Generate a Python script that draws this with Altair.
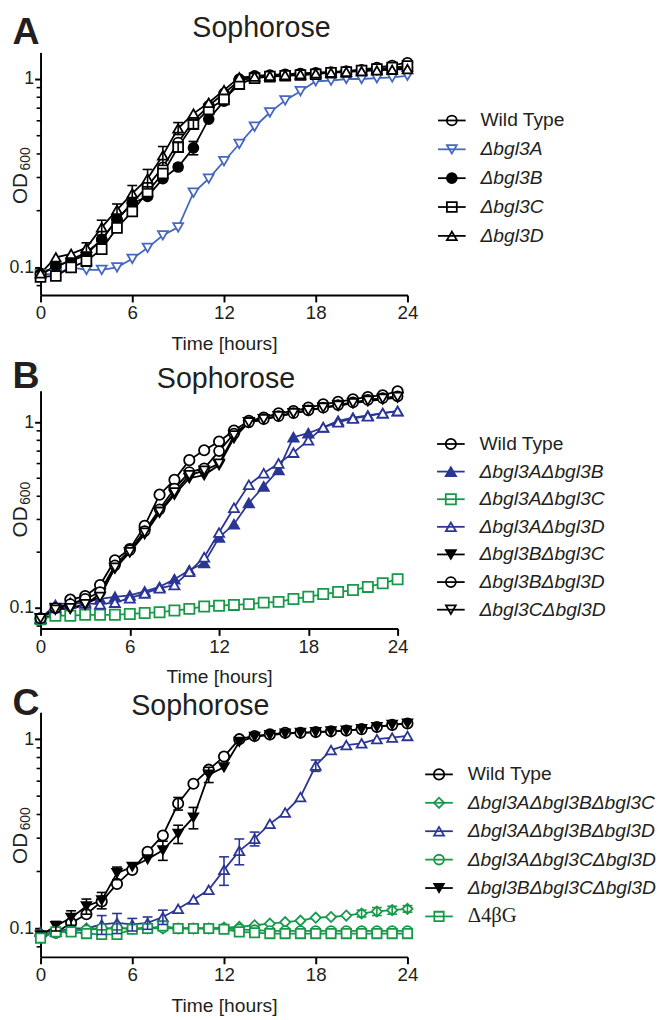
import altair as alt
import pandas as pd

FONT = "Liberation Sans"
TXT = "#231f20"
BLACK = "#000000"
BLUE_A = "#4468c0"
BLUE = "#2b3595"
GREEN = "#17994a"

HOURS = list(range(25))

# ---------------- Panel A ----------------
A_NAMES = ["Wild Type", "Δbgl3A", "Δbgl3B", "Δbgl3C", "Δbgl3D"]
A_WT = [0.093, 0.100, 0.110, 0.120, 0.140, 0.180, 0.220, 0.270, 0.340, 0.460, 0.600, 0.720, 0.840,
        0.980, 1.02, 1.04, 1.05, 1.06, 1.07, 1.08, 1.10, 1.12, 1.15, 1.18, 1.22]
A_B3A = [0.092, 0.092, 0.100, 0.097, 0.097, 0.100, 0.111, 0.127, 0.148, 0.163, 0.249, 0.296, 0.366,
         0.452, 0.558, 0.664, 0.770, 0.862, 0.973, 0.980, 1.00, 1.00, 1.01, 1.02, 1.04]
A_B3B = [0.092, 0.102, 0.108, 0.117, 0.141, 0.179, 0.219, 0.238, 0.296, 0.341, 0.431, 0.612, 0.763,
         1.00, 1.04, 1.05, 1.06, 1.07, 1.08, 1.09, 1.10, 1.11, 1.12, 1.13, 1.15]
A_B3C = [0.089, 0.090, 0.100, 0.108, 0.125, 0.162, 0.198, 0.252, 0.315, 0.435, 0.575, 0.690, 0.780,
         0.940, 1.01, 1.03, 1.04, 1.05, 1.06, 1.08, 1.09, 1.11, 1.13, 1.15, 1.17]
A_B3D = [0.093, 0.113, 0.118, 0.127, 0.163, 0.202, 0.247, 0.296, 0.393, 0.547, 0.655, 0.748, 0.873,
         1.02, 1.03, 1.04, 1.05, 1.06, 1.07, 1.08, 1.09, 1.10, 1.11, 1.12, 1.13]
A_ERR_B3D_HOURS = [3, 4, 5, 6, 7, 8, 9]
A_ERR_B3D = [0.008, 0.015, 0.015, 0.025, 0.035, 0.045, 0.040]
A_ERR_B3B_HOURS = [9, 10]
A_ERR_B3B = [0.012, 0.035]
A_ERR_B3C_HOURS = [9, 10]
A_ERR_B3C = [0.025, 0.030]
A_COLORS = [BLACK, BLUE_A, BLACK, BLACK, BLACK]
A_FILLS = ["white", "white", BLACK, "white", "white"]
A_SHAPES = ["circle", "triangle-down", "circle", "square", "triangle-up"]
A_SIZES = [100, 100, 70, 100, 110]

# ---------------- Panel B ----------------
B_NAMES = ["Wild Type", "Δbgl3AΔbgl3B", "Δbgl3AΔbgl3C", "Δbgl3AΔbgl3D",
           "Δbgl3BΔbgl3C", "Δbgl3BΔbgl3D", "Δbgl3CΔbgl3D"]
B_WT = [0.088, 0.092, 0.111, 0.116, 0.133, 0.181, 0.208, 0.277, 0.408, 0.490, 0.626, 0.707, 0.789,
        0.903, 1.02, 1.06, 1.12, 1.15, 1.20, 1.25, 1.29, 1.33, 1.37, 1.40, 1.47]
B_AB = [0.088, 0.104, 0.107, 0.108, 0.112, 0.115, 0.117, 0.123, 0.130, 0.143, 0.160, 0.175, 0.240,
        0.283, 0.368, 0.452, 0.554, 0.832, 0.874, 0.940, 1.02, 1.06, 1.09, 1.12, 1.15]
B_AC = [0.087, 0.091, 0.091, 0.092, 0.092, 0.092, 0.093, 0.094, 0.095, 0.097, 0.099, 0.102, 0.103,
        0.104, 0.105, 0.107, 0.108, 0.112, 0.115, 0.119, 0.122, 0.125, 0.130, 0.136, 0.143]
B_AD = [0.088, 0.100, 0.106, 0.106, 0.105, 0.107, 0.113, 0.120, 0.128, 0.133, 0.157, 0.188, 0.255,
        0.347, 0.461, 0.532, 0.601, 0.687, 0.800, 0.940, 1.00, 1.05, 1.08, 1.12, 1.15]
B_BC = [0.088, 0.100, 0.099, 0.104, 0.120, 0.163, 0.200, 0.250, 0.326, 0.408, 0.500, 0.520, 0.589,
        0.822, 1.00, 1.04, 1.08, 1.12, 1.16, 1.20, 1.23, 1.27, 1.30, 1.33, 1.36]
B_BD = [0.088, 0.100, 0.105, 0.112, 0.122, 0.170, 0.205, 0.260, 0.340, 0.440, 0.540, 0.565, 0.700,
        0.870, 1.00, 1.04, 1.08, 1.12, 1.16, 1.20, 1.24, 1.28, 1.32, 1.35, 1.38]
B_CD = [0.088, 0.098, 0.100, 0.105, 0.115, 0.165, 0.200, 0.255, 0.330, 0.420, 0.520, 0.550, 0.600,
        0.850, 1.00, 1.04, 1.08, 1.12, 1.16, 1.20, 1.23, 1.27, 1.31, 1.34, 1.37]
B_COLORS = [BLACK, BLUE, GREEN, BLUE, BLACK, BLACK, BLACK]
B_FILLS = ["white", BLUE, "white", "white", BLACK, "white", "white"]
B_SHAPES = ["circle", "triangle-up", "square", "triangle-up", "triangle-down", "circle", "triangle-down"]
B_SIZES = [110, 100, 100, 110, 100, 70, 100]

# ---------------- Panel C ----------------
C_NAMES = ["Wild Type", "Δbgl3AΔbgl3BΔbgl3C", "Δbgl3AΔbgl3BΔbgl3D",
           "Δbgl3AΔbgl3CΔbgl3D", "Δbgl3BΔbgl3CΔbgl3D", "Δ4βG"]
C_WT = [0.092, 0.095, 0.107, 0.119, 0.139, 0.172, 0.204, 0.254, 0.310, 0.457, 0.581, 0.690, 0.809,
        1.00, 1.04, 1.06, 1.08, 1.08, 1.09, 1.10, 1.11, 1.13, 1.16, 1.19, 1.21]
C_ABC = [0.092, 0.095, 0.098, 0.100, 0.100, 0.100, 0.100, 0.100, 0.100, 0.100, 0.100, 0.100, 0.101,
         0.102, 0.104, 0.106, 0.108, 0.110, 0.114, 0.115, 0.117, 0.120, 0.123, 0.125, 0.127]
C_ABD = [0.096, 0.096, 0.100, 0.100, 0.105, 0.107, 0.105, 0.107, 0.115, 0.127, 0.142, 0.160, 0.204,
         0.257, 0.298, 0.357, 0.410, 0.495, 0.726, 0.876, 0.930, 0.950, 1.00, 1.02, 1.04]
C_ACD = [0.092, 0.095, 0.097, 0.098, 0.100, 0.100, 0.100, 0.100, 0.101, 0.100, 0.100, 0.100, 0.100,
         0.099, 0.098, 0.097, 0.097, 0.097, 0.097, 0.097, 0.097, 0.097, 0.097, 0.097, 0.097]
C_BCD = [0.092, 0.103, 0.114, 0.131, 0.141, 0.196, 0.212, 0.232, 0.259, 0.316, 0.386, 0.650, 0.710,
         0.968, 1.03, 1.05, 1.07, 1.08, 1.09, 1.10, 1.11, 1.13, 1.16, 1.19, 1.21]
C_4BG = [0.089, 0.096, 0.096, 0.094, 0.093, 0.093, 0.099, 0.100, 0.103, 0.100, 0.100, 0.100, 0.099,
         0.096, 0.095, 0.094, 0.094, 0.094, 0.094, 0.094, 0.094, 0.094, 0.094, 0.094, 0.094]
C_ERR_WT_HOURS = [9]
C_ERR_WT = [0.035]
C_ERR_BCD_HOURS = [1, 2, 3, 4, 5, 8, 9, 10, 11]
C_ERR_BCD = [0.006, 0.010, 0.012, 0.014, 0.015, 0.030, 0.035, 0.050, 0.060]
C_ERR_ABD_HOURS = [4, 5, 6, 7, 8, 12, 13, 14, 18]
C_ERR_ABD = [0.012, 0.013, 0.008, 0.008, 0.010, 0.035, 0.040, 0.025, 0.050]
C_ERR_ABC_HOURS = [21, 22, 23, 24]
C_ERR_ABC = [0.005, 0.006, 0.006, 0.005]
C_COLORS = [BLACK, GREEN, BLUE, GREEN, BLACK, GREEN]
C_FILLS = ["white", "white", "white", "white", BLACK, "white"]
C_SHAPES = ["circle", "diamond", "triangle-up", "circle", "triangle-down", "square"]
C_SIZES = [110, 90, 110, 90, 100, 100]

X_TICKS = [0, 6, 12, 18, 24]
Y_TICKS = [0.1, 1]
Y_MINOR = [0.08, 0.09, 0.2, 0.3, 0.4, 0.5, 0.6, 0.7, 0.8, 0.9]


def build_panel(names, series, errs, colors, fills, shapes, sizes, ydom, w, h, ytop,
                letter, letter_y, title_x, title_y, leg_rule, leg_pt, leg_tx, leg_y, od_y, sub_y):
    rows = [{"series": n, "hour": hr, "od": v}
            for n, vals in zip(names, series) for hr, v in zip(HOURS, vals)]
    df = pd.DataFrame(rows)
    erows = []
    for n, hrs, es in errs:
        vals = series[names.index(n)]
        for hr, e in zip(hrs, es):
            erows.append({"series": n, "hour": hr, "lo": vals[hr] - e, "hi": vals[hr] + e})
    edf = pd.DataFrame(erows)

    xs = alt.Scale(domain=[0, 24], nice=False, zero=False)
    ys = alt.Scale(type="log", domain=ydom, nice=False, range=[h, ytop])
    xaxis = alt.Axis(values=X_TICKS, title="Time [hours]", labelFlush=False, tickSize=7,
                     labelPadding=2, titlePadding=12, labelFontSize=19)
    yaxis = alt.Axis(values=Y_TICKS, format="~g", title=None, labelFlush=False, tickSize=6,
                     labelPadding=1, labelFontSize=18)
    col = alt.Color("series:N", scale=alt.Scale(domain=names, range=colors), legend=None)
    stk = alt.Stroke("series:N", scale=alt.Scale(domain=names, range=colors), legend=None)
    fil = alt.Fill("series:N", scale=alt.Scale(domain=names, range=fills), legend=None)
    shp = alt.Shape("series:N", scale=alt.Scale(domain=names, range=shapes), legend=None)
    siz = alt.Size("series:N", scale=alt.Scale(domain=names, range=sizes), legend=None)
    X = alt.X("hour:Q", scale=xs, axis=xaxis)

    minor = alt.Chart(pd.DataFrame({"v": [m for m in Y_MINOR if ydom[0] < m < ydom[1]]})).mark_rule(
        color=BLACK, strokeWidth=1.6).encode(
        x=alt.value(-4), x2=alt.value(0), y=alt.Y("v:Q", scale=ys, axis=yaxis))
    lines = alt.Chart(df).mark_line(strokeWidth=1.8).encode(
        x=X, y=alt.Y("od:Q", scale=ys, axis=yaxis), color=col)
    pts = alt.Chart(df).mark_point(strokeWidth=1.8, opacity=1, fillOpacity=1).encode(
        x=X, y=alt.Y("od:Q", scale=ys, axis=yaxis), stroke=stk, fill=fil, shape=shp, size=siz)
    layers = [minor, lines, pts]
    if len(edf):
        erule = alt.Chart(edf).mark_rule(strokeWidth=1.6).encode(
            x=X, y=alt.Y("lo:Q", scale=ys, axis=yaxis), y2="hi:Q", color=col)
        cap_lo = alt.Chart(edf).mark_point(shape="M-1,0L1,0", size=100, strokeWidth=1.6,
                                           filled=False, opacity=1).encode(
            x=X, y=alt.Y("lo:Q", scale=ys, axis=yaxis), color=col)
        cap_hi = alt.Chart(edf).mark_point(shape="M-1,0L1,0", size=100, strokeWidth=1.6,
                                           filled=False, opacity=1).encode(
            x=X, y=alt.Y("hi:Q", scale=ys, axis=yaxis), color=col)
        layers += [erule, cap_lo, cap_hi]
    plot = alt.layer(*layers)

    # legend drawn with the same color/shape scales
    ldf = pd.DataFrame({"series": names})
    LY = alt.Y("series:N", scale=alt.Scale(type="point", domain=names, range=leg_y, padding=0),
               axis=None)
    lpts = alt.Chart(ldf).mark_point(strokeWidth=1.8, opacity=1, fillOpacity=1).encode(
        x=alt.value(leg_pt), y=LY, stroke=stk, fill=fil, shape=shp, size=siz)
    lrule = alt.Chart(ldf).mark_rule(strokeWidth=1.8).encode(
        x=alt.value(leg_rule[0]), x2=alt.value(leg_rule[1]), y=LY, color=col)
    normal = [n for n in names if n == "Wild Type"]
    serif = [n for n in names if n == "Δ4βG"]
    italic = [n for n in names if n not in normal and n not in serif]
    ltexts = []
    for group, style, font in [(normal, "normal", FONT), (italic, "italic", FONT),
                               (serif, "normal", "Liberation Serif")]:
        if not group:
            continue
        ltexts.append(alt.Chart(ldf).transform_filter(
            alt.FieldOneOfPredicate(field="series", oneOf=group)).mark_text(
            align="left", baseline="middle", font=font, fontSize=19.5 if font == FONT else 21,
            fontStyle=style, color=TXT).encode(x=alt.value(leg_tx), y=LY, text="series:N"))
    legend = alt.layer(lpts, lrule, *ltexts)

    one = pd.DataFrame({"k": [0]})
    letter_t = alt.Chart(one).mark_text(text=letter, font=FONT, fontSize=38, fontWeight="bold",
                                        align="right", baseline="alphabetic", color=TXT).encode(
        x=alt.value(-1), y=alt.value(letter_y))
    title_t = alt.Chart(one).mark_text(text="Sophorose", font=FONT, fontSize=29, align="center",
                                       baseline="alphabetic", color=TXT).encode(
        x=alt.value(title_x), y=alt.value(title_y))
    od_t = alt.Chart(one).mark_text(text="OD", font=FONT, fontSize=21, angle=270, align="center",
                                    baseline="middle", color=TXT).encode(
        x=alt.value(-20), y=alt.value(od_y))
    sub_t = alt.Chart(one).mark_text(text="600", font=FONT, fontSize=14, angle=270, align="center",
                                     baseline="middle", color=TXT).encode(
        x=alt.value(-15), y=alt.value(sub_y))

    return alt.layer(plot, legend, letter_t, title_t, od_t, sub_t).resolve_scale(
        y="independent").properties(width=w, height=h)


# Panel B's plot area starts 12 px below its group top (shared vconcat spacing)
B_OFF = 12
pA = build_panel(A_NAMES, [A_WT, A_B3A, A_B3B, A_B3C, A_B3D],
                 [("Δbgl3D", A_ERR_B3D_HOURS, A_ERR_B3D), ("Δbgl3B", A_ERR_B3B_HOURS, A_ERR_B3B),
                  ("Δbgl3C", A_ERR_B3C_HOURS, A_ERR_B3C)],
                 A_COLORS, A_FILLS, A_SHAPES, A_SIZES, [0.0713, 1.384], 372, 246, 0,
                 "A", -9, 224, -16, [403, 431], 417, 446, [69, 186], 138, 108)
pB = build_panel(B_NAMES, [B_WT, B_AB, B_AC, B_AD, B_BC, B_BD, B_CD], [],
                 B_COLORS, B_FILLS, B_SHAPES, B_SIZES, [0.0777, 1.48], 362, 241 + B_OFF, B_OFF,
                 "B", -3 + B_OFF, 188, -3 + B_OFF, [402, 430], 416, 445,
                 [54 + B_OFF, 222 + B_OFF], 133 + B_OFF, 104 + B_OFF)
pC = build_panel(C_NAMES, [C_WT, C_ABC, C_ABD, C_ACD, C_BCD, C_4BG],
                 [("Wild Type", C_ERR_WT_HOURS, C_ERR_WT),
                  ("Δbgl3BΔbgl3CΔbgl3D", C_ERR_BCD_HOURS, C_ERR_BCD),
                  ("Δbgl3AΔbgl3BΔbgl3D", C_ERR_ABD_HOURS, C_ERR_ABD),
                  ("Δbgl3AΔbgl3BΔbgl3C", C_ERR_ABC_HOURS, C_ERR_ABC)],
                 C_COLORS, C_FILLS, C_SHAPES, C_SIZES, [0.0708, 1.387], 372, 248, 0,
                 "C", 3, 162, 3, [390, 418], 404, 433, [63, 207], 138, 108)

IND = dict(color="independent", stroke="independent", fill="independent",
           shape="independent", size="independent")
chart = alt.vconcat(pA, pB, pC, spacing=85, bounds="flush").resolve_scale(**IND).properties(
    padding={"top": -1, "left": 0, "right": 0, "bottom": 0}).configure_view(
    stroke=None).configure_axis(
    domainColor=BLACK, domainWidth=2, tickColor=BLACK, tickWidth=2, grid=False,
    labelFont=FONT, labelColor=TXT, titleFont=FONT, titleFontSize=19.5,
    titleColor=TXT, titleFontWeight="normal")

chart.save("out.html", embed_options={"renderer": "svg", "actions": False})
